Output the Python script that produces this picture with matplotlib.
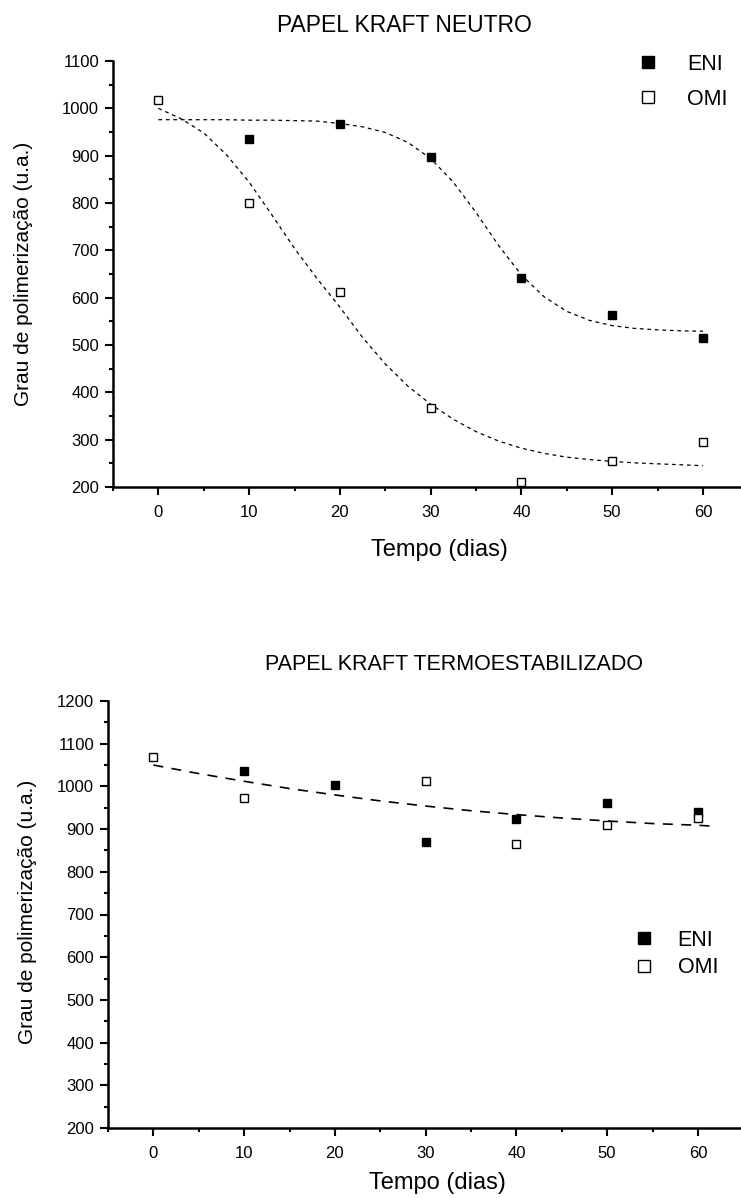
import numpy as np
import matplotlib
matplotlib.use("Agg")
import matplotlib.pyplot as plt
from matplotlib.ticker import MultipleLocator

plt.rcParams['font.family'] = ['Liberation Sans', 'DejaVu Sans']

# ---- data: papel kraft neutro ----
dias = [0, 10, 20, 30, 40, 50, 60]
eni_dias_neutro = [10, 20, 30, 40, 50, 60]
eni_neutro = [936, 966, 898, 641, 564, 515]
omi_neutro = [1017, 801, 611, 367, 210, 255, 296]

# fitted curves
fit_x = [0, 2.5, 5, 7.5, 10, 12.5, 15, 17.5, 20, 22.5, 25, 27.5, 30,
         32.5, 35, 37.5, 40, 42.5, 45, 47.5, 50, 52.5, 55, 57.5, 60]
fit_eni_neutro = [976, 976, 976, 976, 975, 975, 974, 973, 968, 961, 949, 928, 894,
                  844, 780, 710, 648, 602, 571, 552, 541, 535, 532, 530, 529]
fit_omi_neutro = [1000, 978, 948, 902, 844, 775, 704, 640, 580, 516, 460, 413, 375,
                  343, 317, 297, 282, 271, 263, 258, 254, 251, 249, 247, 245]

# ---- data: papel kraft termoestabilizado ----
eni_dias_termo = [10, 20, 30, 40, 50, 60]
eni_termo = [1035, 1004, 870, 924, 961, 941]
omi_dias_termo = [0, 10, 30, 40, 50, 60]
omi_termo = [1070, 972, 1013, 866, 909, 925]

fit_x_termo = [0, 5, 10, 15, 20, 25, 30, 35, 40, 45, 50, 55, 60, 61.5]
fit_termo = [1050, 1030, 1012, 995, 980, 966, 954, 943, 934, 926, 919, 913, 909, 907]

W, H = 741, 1198
fig = plt.figure(figsize=(W / 100, H / 100), dpi=100)


def px(x, y):
    return x / W, 1 - y / H


def style_axes(ax):
    for s in ['top', 'right']:
        ax.spines[s].set_visible(False)
    for s in ['left', 'bottom']:
        ax.spines[s].set_linewidth(1.8)
    ax.xaxis.set_major_locator(MultipleLocator(10))
    ax.xaxis.set_minor_locator(MultipleLocator(5))
    ax.yaxis.set_major_locator(MultipleLocator(100))
    ax.yaxis.set_minor_locator(MultipleLocator(50))
    ax.tick_params(which='major', direction='out', length=6, width=1.5,
                   labelsize=12, pad=4)
    ax.tick_params(which='minor', direction='out', length=3, width=1.5)
    ax.tick_params(axis='x', which='major', pad=7)


# ---- top plot ----
ax1 = fig.add_axes([113 / W, 1 - 487 / H, (W - 113) / W, 426 / H])
ax1.plot(fit_x, fit_eni_neutro, color='black', lw=0.9, ls=(0, (3, 3)))
ax1.plot(fit_x, fit_omi_neutro, color='black', lw=0.9, ls=(0, (3, 3)))
ax1.plot(eni_dias_neutro, eni_neutro, 's', color='black', ms=6.3, mec='black',
         label='ENI', clip_on=False)
ax1.plot(dias, omi_neutro, 's', mfc='white', mec='black', mew=1.0, ms=6.3,
         label='OMI', clip_on=False)
ax1.set_xlim(-5, 64.2)
ax1.set_ylim(200, 1100)
style_axes(ax1)
ax1.legend(loc='upper left', bbox_to_anchor=px(637.6, 54), bbox_transform=fig.transFigure,
           frameon=False, fontsize=15.5, handlelength=1.0, handletextpad=1.3,
           labelspacing=0.65, borderpad=0, borderaxespad=0, markerscale=1.35)

fig.text(*px(404, 25), 'PAPEL KRAFT NEUTRO', fontsize=16.5, ha='center', va='center')
fig.text(*px(439, 550), 'Tempo (dias)', fontsize=17, ha='center', va='center')
fig.text(*px(24, 274), 'Grau de polimerização (u.a.)', fontsize=15, ha='center',
         va='center', rotation=90)

# ---- bottom plot ----
ax2 = fig.add_axes([108 / W, 1 - 1128 / H, (W - 108) / W, 427 / H])
ax2.plot(fit_x_termo, fit_termo, color='black', lw=1.2, ls=(0, (6, 5)))
ax2.plot(eni_dias_termo, eni_termo, 's', color='black', ms=6.3, mec='black',
         label='ENI', clip_on=False)
ax2.plot(omi_dias_termo, omi_termo, 's', mfc='white', mec='black', mew=1.0, ms=6.3,
         label='OMI', clip_on=False)
ax2.set_xlim(-5, 64.75)
ax2.set_ylim(200, 1200)
style_axes(ax2)
ax2.legend(loc='upper left', bbox_to_anchor=px(633.6, 930), bbox_transform=fig.transFigure,
           frameon=False, fontsize=15.5, handlelength=1.0, handletextpad=1.05,
           labelspacing=0.3, borderpad=0, borderaxespad=0, markerscale=1.35)

fig.text(*px(454, 664), 'PAPEL KRAFT TERMOESTABILIZADO', fontsize=15.5, ha='center', va='center')
fig.text(*px(437, 1183), 'Tempo (dias)', fontsize=17, ha='center', va='center')
fig.text(*px(28, 912), 'Grau de polimerização (u.a.)', fontsize=15, ha='center',
         va='center', rotation=90)

fig.savefig('out.png', dpi=100)
